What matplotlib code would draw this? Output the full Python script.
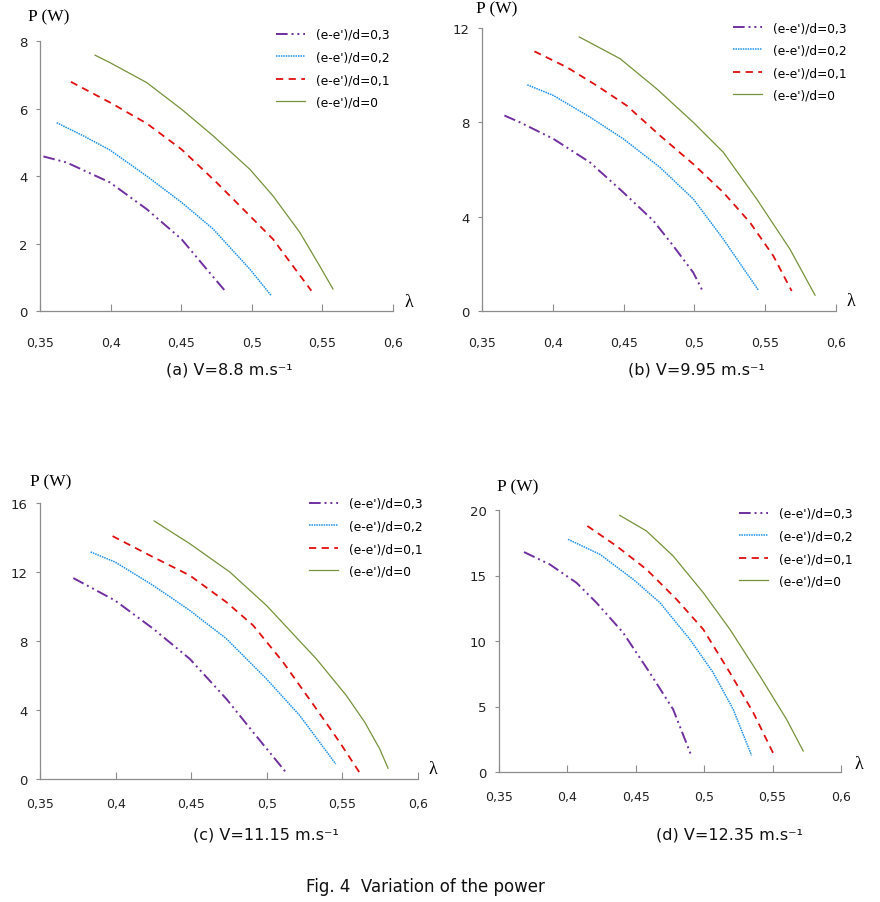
import numpy as np
import matplotlib
matplotlib.use("Agg")
import matplotlib.pyplot as plt

# lambda (tip speed ratio) and power P (W)
# panel (a) V=8.8
a_lam0 = [0.389, 0.3995, 0.4255, 0.4502, 0.4726, 0.4986, 0.515, 0.534, 0.548, 0.5575]
a_p0 = [7.58, 7.36, 6.77, 5.98, 5.19, 4.20, 3.41, 2.33, 1.34, 0.65]
a_lam1 = [0.3719, 0.3995, 0.4255, 0.4502, 0.475, 0.4986, 0.515, 0.529, 0.5422]
a_p1 = [6.79, 6.18, 5.56, 4.79, 3.81, 2.82, 2.13, 1.34, 0.60]
a_lam2 = [0.3618, 0.3807, 0.3995, 0.4255, 0.4502, 0.4726, 0.4986, 0.5139]
a_p2 = [5.58, 5.19, 4.77, 4.00, 3.22, 2.43, 1.24, 0.45]
a_lam3 = [0.3524, 0.3689, 0.3995, 0.4255, 0.4502, 0.468, 0.481]
a_p3 = [4.58, 4.40, 3.81, 3.02, 2.13, 1.24, 0.60]

# panel (b) V=9.95
b_lam0 = [0.4187, 0.4475, 0.4734, 0.4992, 0.5204, 0.544, 0.5675, 0.5852]
b_p0 = [11.62, 10.70, 9.42, 8.00, 6.73, 4.75, 2.62, 0.67]
b_lam1 = [0.387, 0.4098, 0.431, 0.4522, 0.4757, 0.4992, 0.5204, 0.5393, 0.5557, 0.5687]
b_p1 = [11.01, 10.34, 9.56, 8.71, 7.44, 6.23, 5.03, 3.75, 2.34, 0.85]
b_lam2 = [0.382, 0.4004, 0.4263, 0.4498, 0.4757, 0.4992, 0.5204, 0.5451]
b_p2 = [9.59, 9.14, 8.22, 7.30, 6.09, 4.75, 3.05, 0.89]
b_lam3 = [0.3658, 0.3768, 0.4004, 0.4263, 0.4498, 0.471, 0.4851, 0.4992, 0.5058]
b_p3 = [8.29, 8.00, 7.30, 6.30, 5.03, 3.83, 2.76, 1.63, 0.85]

# panel (c) V=11.15
c_lam0 = [0.4255, 0.4491, 0.4755, 0.4998, 0.5328, 0.5526, 0.5648, 0.5747, 0.5802]
c_p0 = [14.96, 13.64, 12.0, 10.06, 6.96, 4.84, 3.29, 1.74, 0.62]
c_lam1 = [0.398, 0.4227, 0.4491, 0.4733, 0.491, 0.5108, 0.5328, 0.5482, 0.5615]
c_p1 = [14.08, 12.96, 11.80, 10.25, 8.90, 6.77, 4.06, 2.13, 0.35]
c_lam2 = [0.3835, 0.3996, 0.4249, 0.4491, 0.4733, 0.4998, 0.5218, 0.5456]
c_p2 = [13.16, 12.58, 11.22, 9.77, 8.13, 5.80, 3.68, 0.87]
c_lam3 = [0.372, 0.3996, 0.4249, 0.4491, 0.4733, 0.491, 0.513]
c_p3 = [11.65, 10.35, 8.71, 6.96, 4.64, 2.71, 0.35]

# panel (d) V=12.35
d_lam0 = [0.4383, 0.4578, 0.4773, 0.4993, 0.5188, 0.5407, 0.5602, 0.5724]
d_p0 = [19.59, 18.40, 16.49, 13.69, 10.89, 7.33, 4.02, 1.60]
d_lam1 = [0.4146, 0.4359, 0.4578, 0.4798, 0.4993, 0.5188, 0.5359, 0.5512]
d_p1 = [18.78, 17.25, 15.47, 13.18, 10.89, 7.58, 4.53, 1.27]
d_lam2 = [0.4005, 0.4237, 0.4481, 0.4676, 0.4895, 0.5066, 0.5212, 0.5346]
d_p2 = [17.76, 16.62, 14.71, 12.93, 10.13, 7.58, 4.78, 1.27]
d_lam3 = [0.3683, 0.3871, 0.4066, 0.4212, 0.4407, 0.4602, 0.4773, 0.4907]
d_p3 = [16.79, 15.85, 14.45, 12.93, 10.64, 7.58, 4.78, 1.22]

labels = ["(e-e')/d=0,3", "(e-e')/d=0,2", "(e-e')/d=0,1", "(e-e')/d=0"]
x_ticks = [0.35, 0.4, 0.45, 0.5, 0.55, 0.6]
x_ticklabels = ["0,35", "0,4", "0,45", "0,5", "0,55", "0,6"]
captions = ["(a) V=8.8 m.s\u207b\u00b9", "(b) V=9.95 m.s\u207b\u00b9",
            "(c) V=11.15 m.s\u207b\u00b9", "(d) V=12.35 m.s\u207b\u00b9"]

styles = [
    dict(color="#7030A0", lw=1.4, ls=(0, (6, 2, 1, 2, 1, 2))),
    dict(color="#1E8FE8", lw=1.1, ls=(0, (1, 0.6))),
    dict(color="#E01010", lw=1.3, ls=(0, (4, 3))),
    dict(color="#76923C", lw=0.9, ls="-"),
]

W, H = 880, 903
fig = plt.figure(figsize=(W / 100, H / 100), dpi=100)

def fx(px):
    return px / W

def fy(py):
    return 1 - py / H

# pixel boxes: left, right, bottom, top ; legend pos ; P(W) pos ; lambda pos ; caption pos
panels = [
    dict(box=(40, 393, 312, 42), ymax=8, yt=[0, 2, 4, 6, 8], xpad=18,
         lam=[a_lam3, a_lam2, a_lam1, a_lam0], p=[a_p3, a_p2, a_p1, a_p0],
         leg=(276, 29), pw=(49, 17), lm=(409, 303), cap=(229, 370)),
    dict(box=(482, 836, 312, 29), ymax=12, yt=[0, 4, 8, 12], xpad=18,
         lam=[b_lam3, b_lam2, b_lam1, b_lam0], p=[b_p3, b_p2, b_p1, b_p0],
         leg=(733, 22), pw=(497, 9), lm=(851, 302), cap=(696, 370)),
    dict(box=(40, 418, 780, 504), ymax=16, yt=[0, 4, 8, 12, 16], xpad=13,
         lam=[c_lam3, c_lam2, c_lam1, c_lam0], p=[c_p3, c_p2, c_p1, c_p0],
         leg=(309, 498), pw=(51, 482), lm=(433, 770), cap=(266, 835)),
    dict(box=(499, 841, 773, 511), ymax=20, yt=[0, 5, 10, 15, 20], xpad=13,
         lam=[d_lam3, d_lam2, d_lam1, d_lam0], p=[d_p3, d_p2, d_p1, d_p0],
         leg=(739, 508), pw=(518, 487), lm=(859, 765), cap=(729, 835)),
]

for i, pn in enumerate(panels):
    l, r, b, t = pn["box"]
    ax = fig.add_axes([fx(l), fy(b), (r - l) / W, (b - t) / H])
    for lam, p, st, lab in zip(pn["lam"], pn["p"], styles, labels):
        ax.plot(lam, p, label=lab, **st)
    ax.set_xlim(0.35, 0.6)
    ax.set_ylim(0, pn["ymax"])
    ax.set_xticks(x_ticks)
    ax.set_xticklabels(x_ticklabels)
    ax.set_yticks(pn["yt"])
    for s in ["top", "right"]:
        ax.spines[s].set_visible(False)
    for s in ["left", "bottom"]:
        ax.spines[s].set_color("#8c8c8c")
        ax.spines[s].set_linewidth(0.9)
    ax.tick_params(axis="x", direction="in", length=5, color="#8c8c8c",
                   labelsize=9, pad=pn["xpad"], labelcolor="#222222")
    ax.tick_params(axis="y", direction="out", length=3, color="#8c8c8c",
                   labelsize=9.5, pad=6, labelcolor="#222222")
    ax.legend(loc="upper left", bbox_to_anchor=(fx(pn["leg"][0]), fy(pn["leg"][1])),
              bbox_transform=fig.transFigure, frameon=False, fontsize=8.8,
              handlelength=2.4, handletextpad=0.9, labelspacing=0.78,
              borderpad=0, borderaxespad=0)
    fig.text(fx(pn["pw"][0]), fy(pn["pw"][1]), "P (W)", family="Liberation Serif",
             fontsize=12.5, ha="center", va="center")
    fig.text(fx(pn["lm"][0]), fy(pn["lm"][1]), "\u03bb", family="Liberation Serif",
             fontsize=13, ha="center", va="center")
    fig.text(fx(pn["cap"][0]), fy(pn["cap"][1]), captions[i], fontsize=11.5,
             ha="center", va="center", color="#111111")

fig.text(fx(425), fy(887), "Fig. 4  Variation of the power", fontsize=12,
         ha="center", va="center", color="#111111")

fig.savefig("out.png", dpi=100)
